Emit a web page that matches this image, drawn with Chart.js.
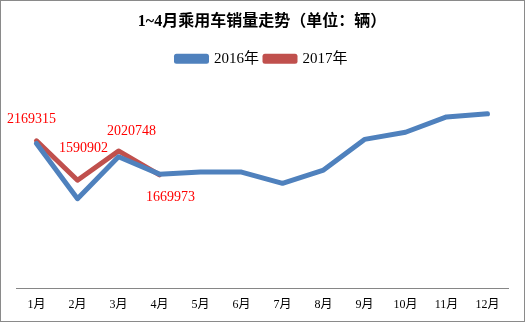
<!DOCTYPE html>
<html>
<head>
<meta charset="utf-8">
<script src="https://cdn.jsdelivr.net/npm/chart.js@4"></script>
<style>
  html, body { margin: 0; padding: 0; background: #fff; }
  #box { width: 525px; height: 322px; box-sizing: border-box; border: 1px solid #8a8a8a; position: relative; }
  #box canvas { position: absolute; left: -1px; top: -1px; }
</style>
</head>
<body>
<div id="box"><canvas id="c" width="525" height="322"></canvas></div>
<script>
const months = ['1月','2月','3月','4月','5月','6月','7月','8月','9月','10月','11月','12月'];
const sales2016 = [2130000, 1320000, 1935000, 1680000, 1710000, 1710000, 1545000, 1740000, 2190000, 2295000, 2520000, 2565000];
const sales2017 = [2169315, 1590902, 2020748, 1669973];

const serif = "'Liberation Serif', 'Times New Roman', 'Noto Sans CJK SC', serif";

// label placement relative to each 2017 point
const labelOffsets = [[-5, -21], [6, -32], [13, -20], [11, 23]];

const valueLabels = {
  id: 'valueLabels',
  afterDatasetsDraw(chart) {
    const meta = chart.getDatasetMeta(1);
    const data = chart.data.datasets[1].data;
    const ctx = chart.ctx;
    ctx.save();
    ctx.font = '14px ' + serif;
    ctx.fillStyle = '#ff0000';
    ctx.textAlign = 'center';
    ctx.textBaseline = 'middle';
    meta.data.forEach((pt, i) => {
      const off = labelOffsets[i] || [0, -15];
      ctx.fillText(String(data[i]), pt.x + off[0], pt.y + off[1]);
    });
    ctx.restore();
  }
};

const legendGap = {
  id: 'legendGap',
  beforeInit(chart) {
    const fit = chart.legend.fit;
    chart.legend.fit = function () {
      fit.call(this);
      this.height += 8;
    };
  }
};

new Chart(document.getElementById('c'), {
  type: 'line',
  data: {
    labels: months,
    datasets: [
      { label: '2016年', data: sales2016, borderColor: '#4f81bd', backgroundColor: '#4f81bd',
        borderWidth: 5, pointRadius: 0, tension: 0, borderCapStyle: 'round', borderJoinStyle: 'round' },
      { label: '2017年', data: sales2017, borderColor: '#c0504d', backgroundColor: '#c0504d',
        borderWidth: 5, pointRadius: 0, tension: 0, borderCapStyle: 'round', borderJoinStyle: 'round' }
    ]
  },
  options: {
    responsive: false,
    animation: false,
    layout: { padding: { left: 16, right: 17, top: 0, bottom: 1 } },
    plugins: {
      title: {
        display: true,
        text: '1~4月乘用车销量走势（单位：辆）',
        color: '#000',
        font: { family: serif, size: 16, weight: 'bold' },
        padding: { top: 12, bottom: 14 }
      },
      legend: {
        display: true,
        labels: {
          color: '#000',
          font: { family: serif, size: 15 },
          boxWidth: 30,
          boxHeight: 5,
          padding: 6
        }
      },
      tooltip: { enabled: false }
    },
    scales: {
      x: {
        offset: true,
        grid: { display: false, drawTicks: false },
        border: { display: true, color: '#868686', width: 1 },
        ticks: { color: '#000', font: { family: serif, size: 12 }, padding: 9, maxRotation: 0, autoSkip: false }
      },
      y: {
        display: false,
        min: 0,
        max: 3000000
      }
    }
  },
  plugins: [valueLabels, legendGap]
});
</script>
</body>
</html>
